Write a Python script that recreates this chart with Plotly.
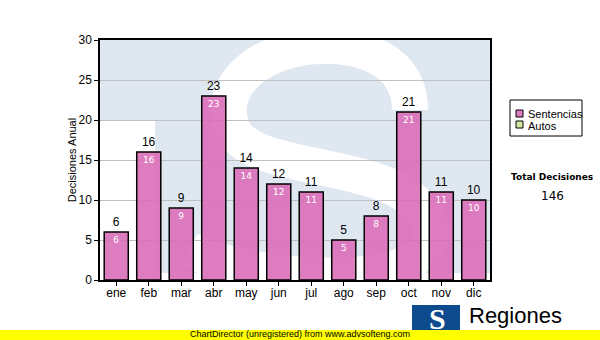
import plotly.graph_objects as go

months = ["ene", "feb", "mar", "abr", "may", "jun", "jul", "ago", "sep", "oct", "nov", "dic"]
sentencias = [6, 16, 9, 23, 14, 12, 11, 5, 8, 21, 11, 10]
autos = []
series_names = ["Sentencias", "Autos"]
series_colors = ["rgba(218,110,185,0.9)", "#d4e8a0"]
total = 146

W, H = 600, 340
L, R, T, B = 100, 490, 40, 280


def px(x, y):
    return (x - L) / (R - L), (B - y) / (B - T)


def path(cmds):
    out = []
    for c in cmds:
        if isinstance(c, str):
            out.append(c)
        else:
            x, y = px(*c)
            out.append(f"{x:.4f},{y:.4f}")
    return " ".join(out)


def rect(x0, y0, x1, y1, fill, line=None, layer="above"):
    a, b = px(x0, y1)
    c, d = px(x1, y0)
    return dict(type="rect", xref="paper", yref="paper", layer=layer,
                x0=a, y0=b, x1=c, y1=d, fillcolor=fill,
                line=line if line else dict(width=0))


def note(text, x, y, size, family="DejaVu Sans", color="black", xanchor="center"):
    a, b = px(x, y)
    return dict(text=text, x=a, y=b, xref="paper", yref="paper", showarrow=False,
                xanchor=xanchor, yanchor="middle",
                font=dict(size=size, family=family, color=color))


fig = go.Figure()

fig.add_trace(go.Bar(
    x=months, y=sentencias, name=series_names[0],
    marker=dict(color=series_colors[0], line=dict(color="black", width=1.5)),
    text=[str(v) for v in sentencias], textposition="inside", insidetextanchor="end",
    textfont=dict(color="white", size=9, family="DejaVu Sans"),
    textangle=0,
))
fig.add_trace(go.Bar(
    x=months, y=sentencias, showlegend=False, hoverinfo="skip",
    marker=dict(color="rgba(0,0,0,0)", line=dict(width=0)),
    text=[str(v) for v in sentencias], textposition="outside",
    textfont=dict(color="black", size=12, family="Liberation Sans"),
    cliponaxis=False, textangle=0,
))

shapes = []
# watermark base (light blue)
shapes.append(dict(type="path", xref="paper", yref="paper", layer="below",
                   path=path(["M", (100, 40), "L", (490, 40), "L", (490, 273), "L", (155, 273),
                              "L", (155, 120), "L", (100, 120), "Z"]),
                   fillcolor="#dfe8f1", line=dict(width=0)))
# white S stroke
shapes.append(dict(type="path", xref="paper", yref="paper", layer="below",
                   path=path(["M", (410, 110), "C", (410, 52), (345, 40), (300, 48),
                              "C", (248, 58), (218, 92), (232, 128),
                              "C", (246, 164), (330, 162), (385, 184),
                              "C", (435, 204), (447, 244), (405, 264),
                              "C", (365, 284), (250, 278), (190, 250)]),
                   fillcolor="rgba(0,0,0,0)", line=dict(color="white", width=36)))

# legend (drawn manually)
shapes.append(rect(510, 100, 582, 136, "white", dict(color="black", width=1)))
shapes.append(rect(516, 110, 523, 117, series_colors[0], dict(color="black", width=1)))
shapes.append(rect(516, 121, 523, 128, series_colors[1], dict(color="black", width=1)))

# yellow strip
shapes.append(rect(0, 330, 600, 340, "#ffff00"))
# logo box
shapes.append(rect(412, 305, 460, 330, "#0d4a8e"))

annotations = [
    note(series_names[0], 526, 114, 11, family="Liberation Sans", xanchor="left"),
    note(series_names[1], 526, 126, 11, family="Liberation Sans", xanchor="left"),
    note("<b>Total Decisiones</b>", 552, 177, 9),
    note(str(total), 552, 196, 12),
    note("ChartDirector (unregistered) from www.advsofteng.com", 300, 334, 9, family="Liberation Sans"),
    note("<b>S</b>", 437, 318, 30, family="Liberation Serif", color="white"),
    note("Regiones", 467, 315, 22, family="Liberation Sans", xanchor="left"),
]

fig.update_layout(
    width=W, height=H,
    margin=dict(l=L, r=W - R, t=T, b=H - B, pad=0, autoexpand=False),
    paper_bgcolor="white", plot_bgcolor="white",
    barmode="overlay", bargap=0.26,
    font=dict(family="Liberation Sans", size=12, color="black"),
    shapes=shapes, annotations=annotations,
    showlegend=False,
)
fig.update_xaxes(showline=True, linecolor="black", linewidth=1.5, mirror=True,
                 ticks="outside", ticklen=4, tickcolor="black", showgrid=False,
                 ticklabelstandoff=-3,
                 tickfont=dict(size=12, family="Liberation Sans"))
fig.update_yaxes(range=[0, 30], dtick=5, showline=True, linecolor="black", linewidth=1.5, mirror=True,
                 ticks="outside", ticklen=4, tickcolor="black", showgrid=True, gridcolor="#c0c0c0",
                 gridwidth=1, zeroline=False,
                 tickfont=dict(size=12, family="Liberation Sans"),
                 title=dict(text="Decisiones Anual", font=dict(size=11, family="Liberation Sans"), standoff=0))

fig.write_html("out.html", config={"displayModeBar": False},
               post_script="document.body.style.margin='0';document.body.style.overflow='hidden';")
